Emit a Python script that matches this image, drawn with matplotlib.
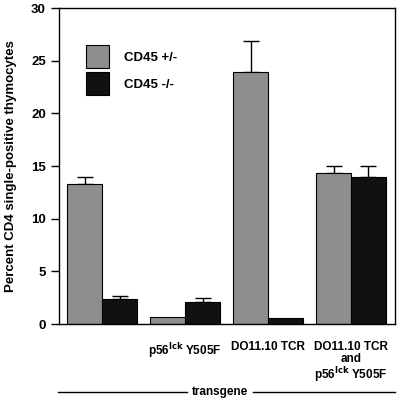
import matplotlib
matplotlib.use('Agg')
import matplotlib.pyplot as plt
from matplotlib.lines import Line2D
import numpy as np

# data
groups = ['', 'p56$^{\\mathbf{lck}}$ Y505F', 'DO11.10 TCR',
          'DO11.10 TCR\nand\np56$^{\\mathbf{lck}}$ Y505F']
het_vals = [13.3, 0.7, 23.9, 14.3]
het_err = [0.7, 0.0, 3.0, 0.7]
ko_vals = [2.4, 2.1, 0.6, 14.0]
ko_err = [0.3, 0.4, 0.0, 1.0]
series_names = ['CD45 +/-', 'CD45 -/-']

plt.rcParams['font.family'] = ['Liberation Sans', 'DejaVu Sans']
plt.rcParams['font.weight'] = 'bold'
plt.rcParams['mathtext.default'] = 'bf'

fig = plt.figure(figsize=(4, 4.01), dpi=100)
ax = fig.add_axes([0.1475, 0.192, 0.84, 0.788])

x = np.arange(len(groups))
w = 0.42
for off, vals, errs, col, name in [(-w / 2, het_vals, het_err, '#8e8e8e', series_names[0]),
                                   (w / 2, ko_vals, ko_err, '#111111', series_names[1])]:
    ax.bar(x + off, vals, w, color=col, edgecolor='black', linewidth=0.8,
           label=name, zorder=2)
    # only the upper half of the error bar, and only where there is one
    keep = [i for i, e in enumerate(errs) if e > 0]
    ax.errorbar(x[keep] + off, [vals[i] for i in keep],
                yerr=[[0] * len(keep), [errs[i] for i in keep]],
                fmt='none', ecolor='black', elinewidth=1, capsize=6,
                capthick=1, zorder=1)

ax.set_xlim(-0.52, 3.53)
ax.set_ylim(0, 30)
ax.set_yticks(range(0, 31, 5))
ax.tick_params(axis='y', direction='out', length=6, width=1, labelsize=9.5)
ax.tick_params(axis='x', length=0, labelsize=8.5, pad=12)
ax.set_xticks(x)
ax.set_xticklabels(groups, va='top', linespacing=1.0)
for s in ax.spines.values():
    s.set_linewidth(1)
ax.set_ylabel('Percent CD4 single-positive thymocytes', fontsize=9.5,
              fontweight='bold', labelpad=10)

ax.legend(loc='upper left', bbox_to_anchor=(0.08, 0.882), frameon=False,
          borderpad=0, borderaxespad=0, handlelength=1.73, handleheight=2.28,
          labelspacing=0.3, handletextpad=1.15, fontsize=9.5)

# "transgene" bracket line under the groups
ty = 0.022
fig.text(0.55, ty, 'transgene', ha='center', va='center', fontsize=8.5,
         fontweight='bold')
fig.add_artist(Line2D([0.145, 0.468], [ty, ty], color='black', lw=1))
fig.add_artist(Line2D([0.633, 0.988], [ty, ty], color='black', lw=1))

fig.savefig('out.png', dpi=100)
